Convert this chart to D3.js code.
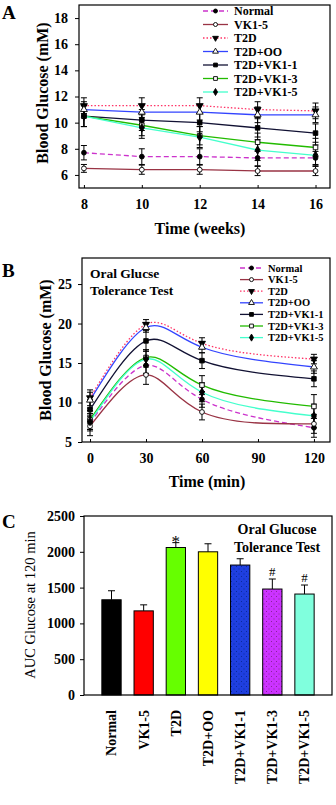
<!DOCTYPE html>
<html>
<head>
<meta charset="utf-8">
<script src="https://cdn.jsdelivr.net/npm/d3@7"></script>
<style>
  body { margin: 0; background: #fff; }
  text { font-family: "Liberation Serif", "DejaVu Serif", serif; }
</style>
</head>
<body>
<div id="fig"></div>
<script>

// groups shared by the three panels
const groups = ["Normal", "VK1-5", "T2D", "T2D+OO", "T2D+VK1-1", "T2D+VK1-3", "T2D+VK1-5"];

// panel A - weekly blood glucose
const weeks = [8, 10, 12, 14, 16];
const weeklyGlucose = [
  [7.7, 7.4, 7.4, 7.3, 7.3],
  [6.5, 6.4, 6.4, 6.3, 6.3],
  [11.3, 11.3, 11.3, 11.0, 10.9],
  [11.0, 10.8, 10.8, 10.6, 10.6],
  [10.5, 10.2, 10.0, 9.6, 9.2],
  [10.5, 9.8, 9.0, 8.5, 8.1],
  [10.5, 9.6, 8.9, 7.9, 7.5]
];
const weeklyErr = [
  [0.55, 0.6, 0.6, 0.6, 0.5],
  [0.3, 0.35, 0.35, 0.35, 0.35],
  [0.6, 0.6, 0.6, 0.6, 0.6],
  [0.6, 0.6, 0.6, 0.6, 0.6],
  [0.8, 0.8, 0.7, 0.7, 0.7],
  [0.8, 0.8, 0.7, 0.7, 0.7],
  [0.8, 0.8, 0.8, 0.8, 0.8]
];
const weekTicks = [8, 10, 12, 14, 16];
const glucoseTicksA = [6, 8, 10, 12, 14, 16, 18];

// panel B - oral glucose tolerance test
const ogttTimes = [0, 30, 60, 120];
const ogttGlucose = [
  [7.4, 14.7, 10.4, 6.8],
  [7.0, 13.5, 8.8, 7.3],
  [10.6, 19.9, 17.5, 15.5],
  [10.3, 19.5, 17.0, 14.5],
  [9.1, 17.8, 15.3, 13.0],
  [7.8, 15.7, 12.2, 9.5],
  [7.6, 15.5, 11.3, 8.3]
];
const ogttErr = [
  [1.0, 1.0, 1.0, 1.2],
  [1.2, 1.2, 1.0, 1.2],
  [1.0, 0.6, 0.7, 0.6],
  [1.0, 0.6, 0.7, 0.8],
  [1.3, 1.3, 1.0, 1.0],
  [1.2, 1.0, 1.2, 1.5],
  [1.0, 1.0, 1.2, 1.5]
];
const minTicks = [0, 30, 60, 90, 120];
const glucoseTicksB = [5, 10, 15, 20, 25];

// panel C - AUC at 120 min
const aucValues = [1330, 1175, 2060, 2000, 1815, 1480, 1410];
const aucErr = [126, 84, 68, 112, 88, 140, 126];
const aucMarks = ["", "", "*", "", "", "#", "#"];
const aucTicks = [0, 500, 1000, 1500, 2000, 2500];

// styles
const lineColors = ["#cc33cc", "#993344", "#ff3366", "#3344ff", "#111133", "#22bb00", "#44ffcc"];
const lineDash = ["5,3", null, "1.5,2", null, null, null, null];
const markers = ["circle", "circle", "triDown", "triUp", "square", "square", "diamond"];
const markerFill = ["#000", "#fff", "#000", "#fff", "#000", "#fff", "#000"];
const barColors = ["#000000", "#ff0000", "#66ff00", "#ffff00", "#1f3fe0", "#cc33ff", "#80ffdd"];

let svg = d3.select("#fig").append("svg")
  .attr("width", 336)
  .attr("height", 805);

// dotted textures for two of the bars
let defs = svg.append("defs");
function dotPattern(id, bg, dot) {
  let p = defs.append("pattern")
    .attr("id", id)
    .attr("patternUnits", "userSpaceOnUse")
    .attr("width", 5).attr("height", 5);
  p.append("rect").attr("width", 5).attr("height", 5).attr("fill", bg);
  p.append("rect").attr("x", 1).attr("y", 1).attr("width", 1).attr("height", 1).attr("fill", dot);
  p.append("rect").attr("x", 3.5).attr("y", 3.5).attr("width", 1).attr("height", 1).attr("fill", dot);
}
dotPattern("dotBlue", "#1f3fe0", "#0a2a9a");
dotPattern("dotPurple", "#cc33ff", "#882299");
const barFills = [barColors[0], barColors[1], barColors[2], barColors[3], "url(#dotBlue)", "url(#dotPurple)", barColors[6]];

function drawMarker(g, type, x, y, fill, r) {
  r = r || 2.4;
  let el;
  if (type == "circle") {
    el = g.append("circle").attr("cx", x).attr("cy", y).attr("r", r);
  } else {
    let sym = { triDown: d3.symbolTriangle, triUp: d3.symbolTriangle, square: d3.symbolSquare, diamond: d3.symbolDiamond }[type];
    let size = r * r * 3.6;
    el = g.append("path")
      .attr("d", d3.symbol(sym, size)())
      .attr("transform", "translate(" + x + "," + y + ")" + (type == "triDown" ? " rotate(180)" : ""));
  }
  el.attr("fill", fill).attr("stroke", "#000").attr("stroke-width", 0.9);
}

function styleAxis(g, size) {
  g.select(".domain").remove();
  g.selectAll("text")
    .attr("font-size", size)
    .attr("font-weight", "bold")
    .attr("fill", "#000")
    .attr("font-family", "Liberation Serif, serif");
  g.selectAll("line").attr("stroke", "#000");
}

////////////////////////////
/// Line panel (A and B) ///
////////////////////////////

function linePanel(opt) {
  let x = d3.scaleLinear().domain(opt.xDomain).range([opt.left, opt.right]);
  let y = d3.scaleLinear().domain(opt.yDomain).range([opt.bottom, opt.top]);

  let gy = svg.append("g")
    .attr("transform", "translate(" + opt.left + ",0)")
    .call(d3.axisLeft(y).tickValues(opt.yTicks).tickSize(4).tickPadding(opt.yPad));
  styleAxis(gy, 14);

  let gx = svg.append("g")
    .attr("transform", "translate(0," + opt.bottom + ")")
    .call(d3.axisBottom(x).tickValues(opt.xTicks).tickSizeInner(-3).tickSizeOuter(0).tickPadding(11));
  styleAxis(gx, 14);

  svg.append("rect")
    .attr("x", opt.left).attr("y", opt.top)
    .attr("width", opt.right - opt.left).attr("height", opt.bottom - opt.top)
    .attr("fill", "none").attr("stroke", "#000").attr("stroke-width", 1.2);

  let line = d3.line()
    .x(d => x(d[0]))
    .y(d => y(d[1]))
    .curve(opt.curve);

  // error bars first, lines, then markers
  groups.forEach((name, i) => {
    opt.values[i].forEach((v, j) => {
      let xx = x(opt.xs[j]);
      let e = opt.errs[i][j];
      let eg = svg.append("g").attr("stroke", "#000").attr("stroke-width", 1);
      eg.append("line").attr("x1", xx).attr("x2", xx).attr("y1", y(v - e)).attr("y2", y(v + e));
      eg.append("line").attr("x1", xx - 3).attr("x2", xx + 3).attr("y1", y(v - e)).attr("y2", y(v - e));
      eg.append("line").attr("x1", xx - 3).attr("x2", xx + 3).attr("y1", y(v + e)).attr("y2", y(v + e));
    });
  });

  groups.forEach((name, i) => {
    let pts = opt.xs.map((t, j) => [t, opt.values[i][j]]);
    svg.append("path")
      .attr("d", line(pts))
      .attr("fill", "none")
      .attr("stroke", lineColors[i])
      .attr("stroke-width", 1.3)
      .attr("stroke-dasharray", lineDash[i]);
  });

  groups.forEach((name, i) => {
    opt.xs.forEach((t, j) => {
      drawMarker(svg, markers[i], x(t), y(opt.values[i][j]), markerFill[i]);
    });
  });

  // legend
  groups.forEach((name, i) => {
    let ly = opt.leg.y + i * opt.leg.dy;
    svg.append("line")
      .attr("x1", opt.leg.x1).attr("x2", opt.leg.x2)
      .attr("y1", ly).attr("y2", ly)
      .attr("stroke", lineColors[i]).attr("stroke-width", 1.3)
      .attr("stroke-dasharray", lineDash[i]);
    drawMarker(svg, markers[i], (opt.leg.x1 + opt.leg.x2) / 2, ly, markerFill[i], 2);
    svg.append("text")
      .attr("x", opt.leg.tx).attr("y", ly)
      .attr("dy", "0.35em")
      .attr("font-size", opt.leg.size)
      .attr("font-weight", "bold")
      .text(name);
  });

  // titles
  svg.append("text")
    .attr("x", opt.xTitle[0]).attr("y", opt.xTitle[1])
    .attr("text-anchor", "middle")
    .attr("font-size", 16).attr("font-weight", "bold")
    .text(opt.xLabel);
  svg.append("text")
    .attr("transform", "translate(" + opt.yTitle[0] + "," + opt.yTitle[1] + ") rotate(-90)")
    .attr("text-anchor", "middle")
    .attr("dy", "0.35em")
    .attr("font-size", 16).attr("font-weight", "bold")
    .text("Blood Glucose (mM)");
  svg.append("text")
    .attr("x", 2).attr("y", opt.letterY)
    .attr("font-size", 19).attr("font-weight", "bold")
    .text(opt.letter);
}

linePanel({
  left: 79, right: 330, top: 5, bottom: 188,
  xDomain: [7.83, 16.5], yDomain: [5, 19],
  xTicks: weekTicks, yTicks: glucoseTicksA, yPad: 7,
  xs: weeks, values: weeklyGlucose, errs: weeklyErr,
  curve: d3.curveLinear,
  leg: { x1: 203, x2: 228, tx: 234, y: 11, dy: 13.5, size: 12 },
  xLabel: "Time (weeks)", xTitle: [200, 234], yTitle: [42, 93],
  letter: "A", letterY: 19
});

linePanel({
  left: 82, right: 330, top: 258, bottom: 442,
  xDomain: [-4.3, 128.6], yDomain: [5, 28.3],
  xTicks: minTicks, yTicks: glucoseTicksB, yPad: 6,
  xs: ogttTimes, values: ogttGlucose, errs: ogttErr,
  curve: d3.curveNatural,
  leg: { x1: 240, x2: 263, tx: 268, y: 268, dy: 11.6, size: 10.5 },
  xLabel: "Time (min)", xTitle: [207, 487], yTitle: [45, 350],
  letter: "B", letterY: 277
});

svg.append("text").attr("x", 90).attr("y", 278)
  .attr("font-size", 13.5).attr("font-weight", "bold").text("Oral Glucse");
svg.append("text").attr("x", 90).attr("y", 295)
  .attr("font-size", 13.5).attr("font-weight", "bold").text("Tolerance Test");

/////////////////////
/// Bar panel (C) ///
/////////////////////

let cLeft = 84, cRight = 332, cTop = 516, cBottom = 695;

let xC = d3.scaleBand().domain(groups).range([cLeft, cRight]).paddingInner(0.4).paddingOuter(0.555);
let yC = d3.scaleLinear().domain([0, 2500]).range([cBottom, cTop]);

let gyC = svg.append("g")
  .attr("transform", "translate(" + cLeft + ",0)")
  .call(d3.axisLeft(yC).tickValues(aucTicks).tickFormat(d3.format("d")).tickSize(4).tickPadding(5));
styleAxis(gyC, 14);

svg.selectAll(".bar")
  .data(groups)
  .join("rect")
  .attr("class", "bar")
  .attr("x", d => xC(d))
  .attr("y", (d, i) => yC(aucValues[i]))
  .attr("width", xC.bandwidth())
  .attr("height", (d, i) => cBottom - yC(aucValues[i]))
  .attr("fill", (d, i) => barFills[i])
  .attr("stroke", "#000")
  .attr("stroke-width", 1);

groups.forEach((name, i) => {
  let cx = xC(name) + xC.bandwidth() / 2;
  let top = yC(aucValues[i] + aucErr[i]);
  svg.append("line").attr("x1", cx).attr("x2", cx)
    .attr("y1", yC(aucValues[i])).attr("y2", top).attr("stroke", "#000");
  svg.append("line").attr("x1", cx - 3.5).attr("x2", cx + 3.5)
    .attr("y1", top).attr("y2", top).attr("stroke", "#000");
  if (aucMarks[i]) {
    svg.append("text")
      .attr("x", cx).attr("y", top - 3)
      .attr("text-anchor", "middle")
      .attr("font-size", aucMarks[i] == "*" ? 17 : 13)
      .attr("dy", aucMarks[i] == "*" ? "0.45em" : 0)
      .text(aucMarks[i]);
  }
  svg.append("text")
    .attr("transform", "translate(" + cx + ",710) rotate(-90)")
    .attr("text-anchor", "end")
    .attr("dy", "0.35em")
    .attr("font-size", 14).attr("font-weight", "bold")
    .text(name);
});

svg.append("rect")
  .attr("x", cLeft).attr("y", cTop)
  .attr("width", cRight - cLeft).attr("height", cBottom - cTop)
  .attr("fill", "none").attr("stroke", "#000").attr("stroke-width", 1.2);

svg.append("text")
  .attr("transform", "translate(30,605) rotate(-90)")
  .attr("text-anchor", "middle")
  .attr("dy", "0.35em")
  .attr("font-size", 14.5)
  .text("AUC Glucose at 120 min");

svg.append("text").attr("x", 277).attr("y", 534).attr("text-anchor", "middle")
  .attr("font-size", 14).attr("font-weight", "bold").text("Oral Glucose");
svg.append("text").attr("x", 277).attr("y", 552).attr("text-anchor", "middle")
  .attr("font-size", 14).attr("font-weight", "bold").text("Tolerance Test");

svg.append("text").attr("x", 2).attr("y", 528)
  .attr("font-size", 19).attr("font-weight", "bold").text("C");

</script>
</body>
</html>
